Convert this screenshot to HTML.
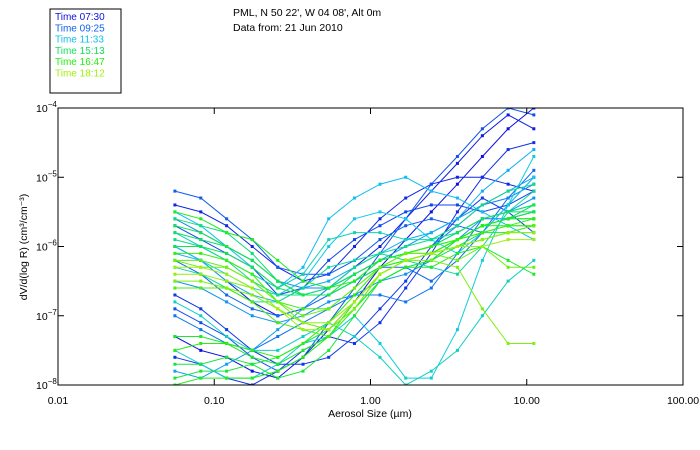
<!DOCTYPE html>
<html><head><meta charset="utf-8"><style>
body{margin:0;background:#fff;}
svg{display:block;font-family:"Liberation Sans",sans-serif;}
</style></head><body>
<svg id="c" width="700" height="450">
<rect x="50" y="9" width="71" height="84" fill="none" stroke="#000"/>
<g id="legend" font-size="10"></g>
<text x="233" y="16" font-size="10.5">PML, N 50 22', W 04 08', Alt 0m</text>
<text x="233" y="31" font-size="10.5">Data from: 21 Jun 2010</text>
<defs><clipPath id="cp"><rect x="58" y="108" width="625" height="277"/></clipPath></defs>
<g id="series" clip-path="url(#cp)"></g>
<rect x="58" y="108" width="625" height="277" fill="none" stroke="#000"/>
<g id="axes" font-size="10.5"></g>
<text x="370" y="417" font-size="10.5" text-anchor="middle">Aerosol Size (µm)</text>
<text transform="translate(27,247) rotate(-90)" font-size="10.5" text-anchor="middle">dV/d(log R) (cm³/cm⁻³)</text>
</svg>
<script>
const sizes=[0.056,0.082,0.12,0.175,0.255,0.37,0.54,0.79,1.15,1.68,2.45,3.6,5.2,7.6,11.1];
const xTicks=[0.01,0.1,1,10,100];
const xTickLabels=["0.01","0.10","1.00","10.00","100.00"];
const yTicks=[-4,-5,-6,-7,-8];
const legendLabels=["Time 07:30","Time 09:25","Time 11:33","Time 15:13","Time 16:47","Time 18:12"];
const legendColors=["#1010e0","#1060f0","#10c0f0","#10e060","#20f010","#a0f010"];
// log10 of dV/dlogR values
const series=[
[-7.3,-7.5,-7.6,-7.8,-7.9,-7.6,-7.2,-6.8,-6.3,-5.9,-5.5,-5.1,-4.7,-4.3,-4.0],
[-6.0,-6.2,-6.5,-6.8,-7.0,-6.9,-6.6,-6.3,-6.0,-5.6,-5.2,-4.8,-4.4,-4.1,-4.3],
[-5.4,-5.5,-5.7,-6.0,-6.3,-6.5,-6.4,-6.0,-5.6,-5.3,-5.1,-5.0,-5.0,-5.1,-5.2],
[-7.6,-7.7,-7.9,-8.0,-7.8,-7.5,-7.3,-7.4,-7.1,-6.6,-6.1,-5.5,-5.0,-4.6,-4.5],
[-6.7,-6.9,-7.2,-7.5,-7.7,-7.7,-7.6,-7.3,-6.9,-6.5,-6.0,-5.6,-5.3,-5.5,-5.8],
[-5.7,-5.9,-6.1,-6.3,-6.7,-6.6,-6.2,-5.9,-5.7,-5.5,-5.4,-5.4,-5.5,-5.4,-5.2],
[-6.9,-7.1,-7.3,-7.6,-7.8,-7.6,-7.1,-6.6,-6.1,-5.6,-5.1,-4.7,-4.3,-4.0,-4.1],
[-5.2,-5.3,-5.6,-5.9,-6.3,-6.4,-6.4,-6.2,-5.9,-5.7,-5.6,-5.7,-5.8,-5.4,-5.0],
[-6.2,-6.4,-6.7,-6.9,-7.0,-6.9,-6.7,-6.5,-6.3,-6.3,-6.5,-6.2,-5.8,-5.3,-4.9],
[-7.0,-7.2,-7.4,-7.5,-7.3,-7.1,-6.9,-6.7,-6.7,-6.8,-6.6,-6.1,-5.6,-5.6,-5.5],
[-5.6,-5.8,-6.0,-6.2,-6.5,-6.6,-6.6,-6.4,-6.2,-6.1,-6.0,-5.7,-5.4,-5.3,-5.1],
[-6.5,-6.6,-6.8,-7.0,-7.1,-7.0,-6.8,-6.7,-6.5,-6.4,-6.2,-5.9,-5.6,-5.5,-5.3],
[-7.8,-7.9,-7.7,-7.5,-7.2,-6.9,-6.6,-6.4,-6.2,-6.0,-5.8,-5.6,-5.4,-5.2,-5.0],
[-6.1,-6.2,-6.5,-6.7,-6.8,-6.6,-6.5,-6.3,-6.1,-5.9,-5.8,-5.6,-5.2,-4.9,-4.6],
[-5.5,-5.7,-6.0,-6.3,-6.6,-6.3,-5.6,-5.3,-5.1,-5.0,-5.2,-5.3,-5.5,-5.7,-5.9],
[-6.0,-6.2,-6.4,-6.6,-6.7,-6.5,-6.0,-5.6,-5.5,-5.6,-5.9,-6.1,-5.8,-5.4,-5.0],
[-7.5,-7.7,-7.9,-7.9,-7.7,-7.4,-7.3,-7.0,-7.4,-7.9,-7.9,-7.2,-6.2,-5.4,-4.7],
[-6.8,-7.0,-7.3,-7.5,-7.5,-7.3,-7.1,-7.3,-7.6,-8.0,-7.8,-7.5,-7.0,-6.5,-6.2],
[-5.8,-6.0,-6.2,-6.4,-6.6,-6.4,-5.9,-5.8,-5.8,-5.9,-5.9,-5.8,-5.6,-5.5,-5.4],
[-6.3,-6.4,-6.6,-6.8,-6.8,-6.6,-6.3,-6.2,-6.1,-6.2,-6.3,-6.4,-6.0,-5.5,-5.2],
[-5.9,-6.0,-6.2,-6.5,-6.7,-6.7,-6.6,-6.3,-6.1,-6.0,-5.9,-5.7,-5.4,-5.2,-5.1],
[-5.6,-5.7,-5.8,-6.1,-6.5,-6.7,-6.6,-6.4,-6.2,-6.1,-6.0,-5.8,-5.6,-5.5,-5.4],
[-5.8,-5.9,-6.0,-6.2,-6.5,-6.7,-6.7,-6.5,-6.2,-6.1,-6.0,-5.8,-5.6,-5.5,-5.5],
[-6.0,-6.0,-6.1,-6.3,-6.6,-6.7,-6.7,-6.5,-6.3,-6.2,-6.1,-5.9,-5.7,-5.6,-5.4],
[-5.7,-5.8,-6.0,-6.2,-6.5,-6.7,-6.7,-6.4,-6.2,-6.1,-6.0,-5.9,-5.7,-5.6,-5.5],
[-7.7,-7.7,-7.6,-7.7,-7.6,-7.4,-7.2,-6.9,-6.5,-6.3,-6.2,-6.0,-5.8,-5.8,-5.7],
[-7.9,-7.8,-7.8,-7.7,-7.9,-7.8,-7.5,-7.0,-6.5,-6.3,-6.2,-5.9,-5.7,-5.6,-5.6],
[-7.3,-7.3,-7.4,-7.6,-7.7,-7.5,-7.3,-6.9,-6.5,-6.3,-6.3,-6.1,-6.0,-6.2,-6.4],
[-5.5,-5.6,-5.8,-5.9,-6.2,-6.5,-6.6,-6.5,-6.2,-6.1,-6.1,-5.9,-5.7,-5.6,-5.6],
[-8.0,-7.9,-7.9,-7.9,-7.8,-7.6,-7.3,-6.8,-6.4,-6.2,-6.1,-5.9,-5.7,-5.7,-5.7],
[-7.5,-7.4,-7.4,-7.5,-7.6,-7.4,-7.1,-6.7,-6.3,-6.2,-6.1,-5.9,-5.8,-5.7,-5.6],
[-6.1,-6.1,-6.2,-6.4,-6.8,-6.9,-6.9,-6.6,-6.3,-6.1,-6.0,-5.9,-5.8,-5.7,-5.7],
[-6.6,-6.6,-6.6,-6.8,-7.1,-7.2,-7.3,-6.9,-6.4,-6.2,-6.1,-6.0,-5.9,-5.8,-5.8],
[-6.2,-6.2,-6.3,-6.5,-6.8,-7.1,-7.2,-6.9,-6.4,-6.2,-6.1,-6.0,-5.9,-5.8,-5.7],
[-6.2,-6.3,-6.3,-6.5,-6.8,-7.0,-6.9,-6.6,-6.3,-6.1,-6.1,-6.2,-6.0,-6.3,-6.3],
[-6.5,-6.5,-6.6,-6.7,-6.9,-7.1,-7.2,-6.9,-6.4,-6.2,-6.2,-6.3,-6.9,-7.4,-7.4],
[-6.4,-6.4,-6.5,-6.6,-6.9,-7.1,-7.1,-6.8,-6.4,-6.2,-6.1,-6.0,-5.9,-5.8,-5.8],
[-6.3,-6.3,-6.4,-6.6,-6.9,-7.2,-7.2,-6.8,-6.4,-6.2,-6.1,-6.0,-6.0,-5.9,-5.9]
];
const NS="http://www.w3.org/2000/svg";
const X0=58,X1=683,Y0=108,Y1=385;
function xScale(v){return X0+(Math.log10(v)+2)/4*(X1-X0);}
function yScale(e){return Y0+(-4-e)/4*(Y1-Y0);}
function mk(tag,attrs,parent){const el=document.createElementNS(NS,tag);for(const k in attrs)el.setAttribute(k,attrs[k]);parent.appendChild(el);return el;}
function colorAt(t){
 const stops=[[16,16,224],[16,96,240],[16,200,240],[16,224,96],[32,240,16],[160,240,16]];
 const p=t*(stops.length-1),i=Math.min(Math.floor(p),stops.length-2),f=p-i;
 const c=stops[i].map((a,k)=>Math.round(a+(stops[i+1][k]-a)*f));
 return `rgb(${c[0]},${c[1]},${c[2]})`;
}
const lg=document.getElementById('legend');
legendLabels.forEach((l,i)=>{
 const t=mk('text',{x:55,y:20+i*11.3,fill:legendColors[i]},lg);
 t.textContent=l;
 
 
});
const sg=document.getElementById('series');
series.forEach((s,si)=>{
 const col=colorAt(si/(series.length-1));
 const g=mk('g',{},sg);
 
 
 const pts=s.map((e,i)=>xScale(sizes[i]).toFixed(1)+','+yScale(e).toFixed(1)).join(' ');
 mk('polyline',{points:pts,fill:'none',stroke:col,'stroke-width':1},g);
 s.forEach((e,i)=>{
  const r=mk('rect',{x:xScale(sizes[i])-1.5,y:yScale(e)-1.5,width:3,height:3,fill:col},g);
  
  
 });
});
const ax=document.getElementById('axes');
xTicks.forEach((v,i)=>{
 const x=xScale(v);
 mk('line',{x1:x,y1:Y1,x2:x,y2:Y1-6,stroke:'#000'},ax);
 mk('line',{x1:x,y1:Y0,x2:x,y2:Y0+6,stroke:'#000'},ax);
 const t=mk('text',{x:x,y:Y1+19,'text-anchor':'middle'},ax);
 t.textContent=xTickLabels[i];
 
 
});
yTicks.forEach(e=>{
 const y=yScale(e);
 mk('line',{x1:X0,y1:y,x2:X0+6,y2:y,stroke:'#000'},ax);
 mk('line',{x1:X1,y1:y,x2:X1-6,y2:y,stroke:'#000'},ax);
 const t=mk('text',{x:X0-22,y:y+4},ax);
 t.textContent='10';
 const s=mk('tspan',{dy:-5,'font-size':8},t);
 s.textContent=String(e).replace('-','\u2212');
 
 
});
</script>
</body></html>
